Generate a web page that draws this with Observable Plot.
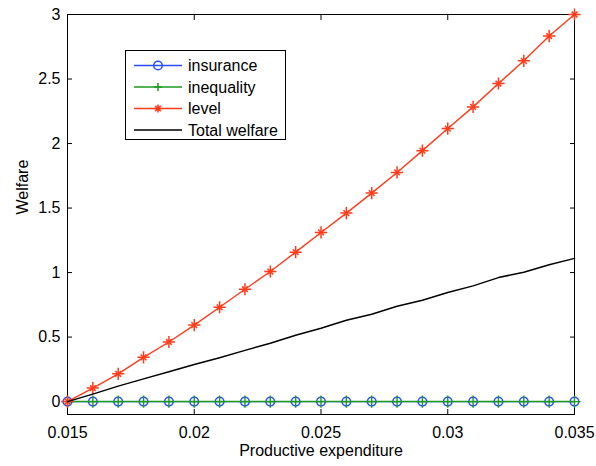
<!DOCTYPE html>
<html>
<head>
<meta charset="utf-8">
<script src="https://cdn.jsdelivr.net/npm/d3@7"></script>
<script src="https://cdn.jsdelivr.net/npm/@observablehq/plot@0.6"></script>
<style>
  html, body { margin: 0; padding: 0; background: #fff; }
  #wrap { position: relative; width: 596px; height: 466px; font-family: "Liberation Sans", Arial, Helvetica, sans-serif; }
  #legend { position: absolute; left: 125px; top: 50px; width: 159px; height: 88px; border: 1px solid #000; background: #fff; }
  #legend svg { position: absolute; left: 0; top: 0; }
</style>
</head>
<body>
<div id="wrap"></div>
<script>
const expenditure = [0.015, 0.016, 0.017, 0.018, 0.019, 0.020, 0.021, 0.022, 0.023, 0.024, 0.025,
                     0.026, 0.027, 0.028, 0.029, 0.030, 0.031, 0.032, 0.033, 0.034, 0.035];
const insurance  = [0, 0, 0, 0, 0, 0, 0, 0, 0, 0, 0, 0, 0, 0, 0, 0, 0, 0, 0, 0, 0];
const inequality = [0, 0, 0, 0, 0, 0, 0, 0, 0, 0, 0, 0, 0, 0, 0, 0, 0, 0, 0, 0, 0];
const level      = [0, 0.105, 0.215, 0.343, 0.462, 0.593, 0.731, 0.871, 1.008, 1.158, 1.311,
                    1.461, 1.616, 1.776, 1.945, 2.116, 2.284, 2.465, 2.641, 2.833, 3.0];
const totalWelfare = [0, 0.058, 0.12, 0.176, 0.231, 0.287, 0.34, 0.397, 0.452, 0.514, 0.568,
                      0.63, 0.677, 0.739, 0.786, 0.845, 0.897, 0.961, 1.003, 1.06, 1.11];
const seriesNames = ["insurance", "inequality", "level", "Total welfare"];
const seriesColors = ["#2a4dff", "#1e9a1e", "#ff3b1a", "#000000"];
const xTicks = [0.015, 0.02, 0.025, 0.03, 0.035];
const yTicks = [0, 0.5, 1, 1.5, 2, 2.5, 3];
const xLabel = "Productive expenditure";
const yLabel = "Welfare";

const rows = (vals) => expenditure.map((x, i) => ({x, y: vals[i]}));
const dIns = rows(insurance), dIneq = rows(inequality), dLev = rows(level), dTot = rows(totalWelfare);
const fmt = d3.format("~g");
const FONT = "\"Liberation Sans\", Arial, Helvetica, sans-serif";
const FS = "16px";

const chart = Plot.plot({
  width: 596,
  height: 466,
  marginLeft: 67,
  marginRight: 22,
  marginTop: 14,
  marginBottom: 52,
  style: {fontFamily: FONT, fontSize: FS, color: "#000", background: "#fff", overflow: "visible"},
  x: {domain: [0.015, 0.035]},
  y: {domain: [-0.1, 3]},
  marks: [
    Plot.axisX({anchor: "bottom", ticks: xTicks, tickFormat: fmt, tickSize: -5, tickPadding: 17, label: null, fontSize: FS}),
    Plot.axisX({anchor: "top", ticks: xTicks, tickFormat: () => "", tickSize: -5, label: null}),
    Plot.axisY({anchor: "left", ticks: yTicks, tickFormat: fmt, tickSize: -5, tickPadding: 12, label: null, fontSize: FS}),
    Plot.axisY({anchor: "right", ticks: yTicks, tickFormat: () => "", tickSize: -5, label: null}),
    Plot.frame({stroke: "#000", strokeWidth: 1}),
    // insurance
    Plot.line(dIns, {x: "x", y: "y", stroke: seriesColors[0], strokeWidth: 1.4}),
    Plot.dot(dIns, {x: "x", y: "y", r: 4.3, stroke: seriesColors[0], strokeWidth: 1.5, fill: "none"}),
    // inequality
    Plot.line(dIneq, {x: "x", y: "y", stroke: seriesColors[1], strokeWidth: 1.5}),
    Plot.dot(dIneq, {x: "x", y: "y", r: 4, symbol: "plus", stroke: seriesColors[1], strokeWidth: 1.4}),
    // level
    Plot.line(dLev, {x: "x", y: "y", stroke: seriesColors[2], strokeWidth: 1.4}),
    Plot.dot(dLev, {x: "x", y: "y", r: 4, symbol: "plus", stroke: seriesColors[2], strokeWidth: 1.5}),
    Plot.dot(dLev, {x: "x", y: "y", r: 2.7, symbol: "times", stroke: seriesColors[2], strokeWidth: 1.5}),
    // total welfare
    Plot.line(dTot, {x: "x", y: "y", stroke: seriesColors[3], strokeWidth: 1.5}),
    // axis titles
    Plot.text([xLabel], {frameAnchor: "bottom", dy: 41, text: d => d, fontSize: FS, fill: "#000"}),
    Plot.text([yLabel], {frameAnchor: "left", dx: -45, rotate: -90, text: d => d, fontSize: FS, fill: "#000"})
  ]
});

const wrap = document.getElementById("wrap");
wrap.appendChild(chart);

// legend (overlay box inside the plot area)
const legend = document.createElement("div");
legend.id = "legend";
const ns = "http://www.w3.org/2000/svg";
const lsvg = document.createElementNS(ns, "svg");
lsvg.setAttribute("width", 159);
lsvg.setAttribute("height", 88);
const rowY = [14.5, 36, 57.5, 79];
seriesNames.forEach((name, i) => {
  const y = rowY[i];
  const line = document.createElementNS(ns, "line");
  line.setAttribute("x1", 8); line.setAttribute("x2", 56);
  line.setAttribute("y1", y); line.setAttribute("y2", y);
  line.setAttribute("stroke", seriesColors[i]);
  line.setAttribute("stroke-width", i === 3 ? 1.5 : 1.4);
  lsvg.appendChild(line);
  const cx = 32;
  if (i === 0) {
    const c = document.createElementNS(ns, "circle");
    c.setAttribute("cx", cx); c.setAttribute("cy", y); c.setAttribute("r", 4.3);
    c.setAttribute("fill", "none"); c.setAttribute("stroke", seriesColors[0]); c.setAttribute("stroke-width", 1.5);
    lsvg.appendChild(c);
  } else if (i === 1 || i === 2) {
    const p = document.createElementNS(ns, "path");
    let d = `M${cx - 4},${y}H${cx + 4}M${cx},${y - 4}V${y + 4}`;
    if (i === 2) d += `M${cx - 2.8},${y - 2.8}L${cx + 2.8},${y + 2.8}M${cx - 2.8},${y + 2.8}L${cx + 2.8},${y - 2.8}`;
    p.setAttribute("d", d);
    p.setAttribute("stroke", seriesColors[i]); p.setAttribute("stroke-width", 1.5); p.setAttribute("fill", "none");
    lsvg.appendChild(p);
  }
  const t = document.createElementNS(ns, "text");
  t.setAttribute("x", 62); t.setAttribute("y", y);
  t.setAttribute("dy", "0.35em");
  t.setAttribute("font-family", FONT);
  t.setAttribute("font-size", FS);
  t.setAttribute("fill", "#000");
  t.textContent = name;
  lsvg.appendChild(t);
});
legend.appendChild(lsvg);
wrap.appendChild(legend);
</script>
</body>
</html>
